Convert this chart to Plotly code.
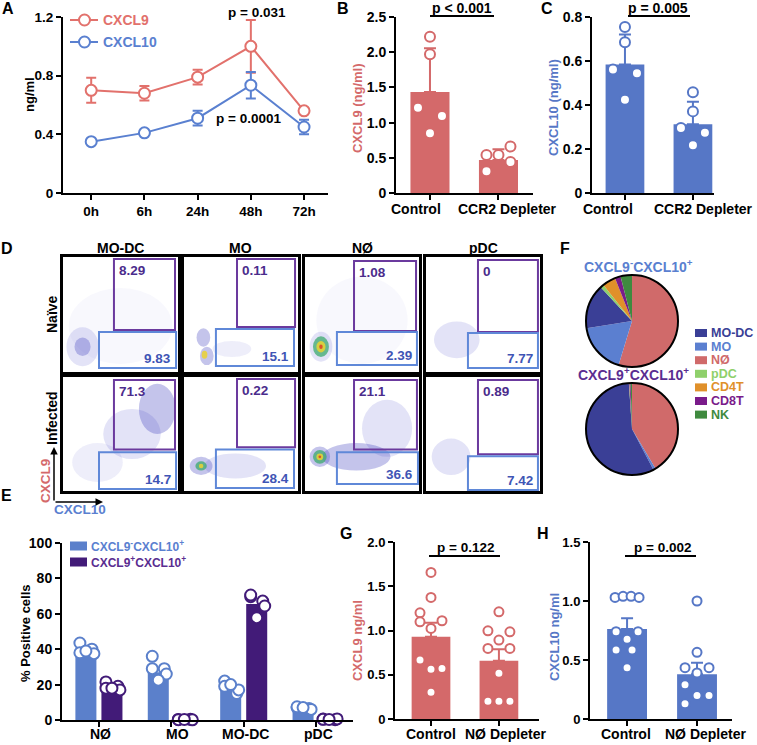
import plotly.graph_objects as go

W, H = 757, 745
def fx(p): return p / W
def fy(p): return 1 - p / H

FONT = "Liberation Sans, Arial, sans-serif"
RED = "#D4696A"
BLUE = "#5677C6"
LRED = "#E2716C"
LBLUE = "#5A80D0"
EBLUE = "#5B80CB"
EPURP = "#421B78"
PTXT = "#5A2D91"

# ---------------- DATA ----------------
# Panel A
time_labels = ["0h", "6h", "24h", "48h", "72h"]
a_cxcl9 = [0.70, 0.68, 0.79, 1.00, 0.56]
a_cxcl9_sem = [0.085, 0.05, 0.05, 0.18, 0.02]
a_cxcl10 = [0.35, 0.41, 0.51, 0.735, 0.45]
a_cxcl10_sem = [0.0, 0.0, 0.05, 0.09, 0.05]

# Panel B / C
bc_groups = ["Control", "CCR2 Depleter"]
b_mean = [1.435, 0.47]
b_sem = [0.62, 0.15]
b_pts_ctrl = [2.22, 1.97, 1.21, 1.095, 0.85]
b_pts_depl = [0.54, 0.54, 0.66, 0.44, 0.31]
c_mean = [0.584, 0.312]
c_sem = [0.136, 0.103]
c_pts_ctrl = [0.755, 0.685, 0.561, 0.544, 0.424]
c_pts_depl = [0.458, 0.371, 0.295, 0.274, 0.217]

# Panel D
d_cells = ["MO-DC", "MO", "NØ", "pDC"]
d_naive_upper = ["8.29", "0.11", "1.08", "0"]
d_naive_lower = ["9.83", "15.1", "2.39", "7.77"]
d_inf_upper = ["71.3", "0.22", "21.1", "0.89"]
d_inf_lower = ["14.7", "28.4", "36.6", "7.42"]

# Panel E
e_cells = ["NØ", "MO", "MO-DC", "pDC"]
e_neg_mean = [38.5, 27.0, 18.0, 6.0]
e_pos_mean = [18.5, 0.3, 65.5, 0.4]
e_neg_pts = [[43.5, 38, 40, 37.5, 39], [36, 29, 29, 26, 22.5],
             [22, 19, 15, 17, 20], [7, 7.5, 6.5, 6, 7]]
e_pos_pts = [[21.5, 18, 19, 17, 18], [0.3, 0.2, 0.4, 0.1, 0.3],
             [69.7, 70.6, 67.2, 64.4, 57.8], [0.5, 0.4, 0.2, 0.6, 0.3]]

# Panel F
f_cells = ["MO-DC", "MO", "NØ", "pDC", "CD4T", "CD8T", "NK"]
f_neg = [15.6, 17.8, 54.7, 1.2, 4.7, 2.0, 4.0]
f_pos = [56.6, 0.8, 41.5, 0.1, 0.1, 0.4, 0.5]

# Panel G / H
gh_groups = ["Control", "NØ Depleter"]
g_mean = [0.93, 0.658]
g_sem = [0.157, 0.13]
g_pts_ctrl = [1.656, 1.374, 1.20, 1.098, 1.11, 1.023, 0.666, 0.561, 0.572, 0.301]
g_pts_depl = [1.211, 0.997, 0.985, 0.892, 0.798, 0.798, 0.516, 0.20, 0.20, 0.20]
h_mean = [0.763, 0.38]
h_sem = [0.09, 0.097]
h_pts_ctrl = [1.03, 1.04, 1.04, 1.03, 0.74, 0.74, 0.675, 0.585, 0.585, 0.435]
h_pts_depl = [1.0, 0.565, 0.435, 0.435, 0.39, 0.29, 0.20, 0.20, 0.13]

# ---------------- STYLE / POSITIONS ----------------
F_COLORS = ["#3A3F96", "#5B7FD0", "#D06A6A", "#8FD06B", "#E0902A", "#7A1B8A", "#3F8A3F"]

fig = go.Figure()
layout = dict(width=W, height=H, margin=dict(l=0, r=0, t=0, b=0, autoexpand=False),
              paper_bgcolor="white", plot_bgcolor="white", showlegend=False,
              font=dict(family=FONT, size=14, color="black", weight=700))
shapes = []
annots = []

def ax_names(n):
    return ("xaxis" if n == 1 else f"xaxis{n}", "yaxis" if n == 1 else f"yaxis{n}",
            "x" if n == 1 else f"x{n}", "y" if n == 1 else f"y{n}")

def add_axes(n, xpx, ypx, xr, yr, xtv=None, xtt=None, ytv=None, ytt=None, box=False,
             tsize=14, xlabels=True):
    xa, ya, xref, yref = ax_names(n)
    base = dict(showgrid=False, zeroline=False, showline=True, linecolor="black",
                linewidth=2, fixedrange=True, automargin=False, tickangle=0,
                tickfont=dict(family=FONT, size=tsize, color="black", weight=700))
    if box:
        xd = dict(base, domain=[fx(xpx[0]), fx(xpx[1])], range=xr, anchor=yref,
                  mirror=True, showticklabels=False, ticks="", linewidth=2.5)
        yd = dict(base, domain=[fy(ypx[1]), fy(ypx[0])], range=yr, anchor=xref,
                  mirror=True, showticklabels=False, ticks="", linewidth=2.5)
    else:
        xd = dict(base, domain=[fx(xpx[0]), fx(xpx[1])], range=xr, anchor=yref,
                  ticks="outside", ticklen=5, tickwidth=2, tickcolor="black",
                  tickmode="array", tickvals=xtv, showticklabels=xlabels)
        if xlabels:
            xd["ticktext"] = xtt
        yd = dict(base, domain=[fy(ypx[1]), fy(ypx[0])], range=yr, anchor=xref,
                  ticks="outside", ticklen=5, tickwidth=2, tickcolor="black",
                  tickmode="array", tickvals=ytv, ticktext=ytt)
    layout[xa] = xd
    layout[ya] = yd
    return xref, yref

def text(x, y, s, size=14, color="black", xanchor="center", yanchor="middle", angle=0):
    annots.append(dict(x=fx(x), y=fy(y), xref="paper", yref="paper", text=s,
                       showarrow=False, xanchor=xanchor, yanchor=yanchor, textangle=angle,
                       font=dict(family=FONT, size=size, color=color, weight=700)))

def hline(x0, x1, y, color="black", width=2):
    shapes.append(dict(type="line", xref="paper", yref="paper", x0=fx(x0), x1=fx(x1),
                       y0=fy(y), y1=fy(y), line=dict(color=color, width=width)))

# ---------- Panel A ----------
xa, ya = add_axes(1, (63, 328), (17, 193), [-0.53, 4.45], [0, 1.2],
                  list(range(5)), time_labels, [0, 0.4, 0.8, 1.2], ["0", "0.4", "0.8", "1.2"],
                  tsize=13.5)
for vals, sem, col in [(a_cxcl9, a_cxcl9_sem, LRED), (a_cxcl10, a_cxcl10_sem, LBLUE)]:
    fig.add_trace(go.Scatter(x=list(range(5)), y=vals, mode="lines+markers", xaxis=xa, yaxis=ya,
                             line=dict(color=col, width=2),
                             marker=dict(size=11, color="white", line=dict(color=col, width=2)),
                             error_y=dict(type="data", array=sem, color=col, thickness=2, width=5),
                             cliponaxis=False, hoverinfo="skip"))
# legend A
for yy, col, lab in [(20, LRED, "CXCL9"), (42, LBLUE, "CXCL10")]:
    hline(70, 98, yy, col, 2)
    shapes.append(dict(type="circle", xref="paper", yref="paper", x0=fx(79), x1=fx(90),
                       y0=fy(yy + 5.5), y1=fy(yy - 5.5), fillcolor="white",
                       line=dict(color=col, width=2)))
    text(101, yy, lab, 14, col, "left")
text(257, 12, "p = 0.031", 13.5)
text(248, 118, "p = 0.0001", 13.5)
text(29, 95, "ng/ml", 13, angle=-90)

# ---------- bar + dot panels ----------
def bar_panel(n, xpx, ypx, xr, yr, ytv, ytt, means, sems, pts_list, offs_list,
              color, spacing, msize=9, tsize=14):
    xr_, yr_ = add_axes(n, xpx, ypx, xr, yr, [0, 1], None, ytv, ytt, tsize=tsize,
                        xlabels=False)
    fig.add_trace(go.Bar(x=[0, 1], y=means, width=0.57, xaxis=xr_, yaxis=yr_,
                         marker=dict(color=color, line=dict(width=0)),
                         error_y=dict(type="data", array=sems, arrayminus=[0, 0], symmetric=False,
                                      color=color, thickness=2, width=6),
                         hoverinfo="skip"))
    for gi, (pts, offs) in enumerate(zip(pts_list, offs_list)):
        fig.add_trace(go.Scatter(x=[gi + o / spacing for o in offs], y=pts, mode="markers",
                                 xaxis=xr_, yaxis=yr_, cliponaxis=False, hoverinfo="skip",
                                 marker=dict(size=msize, color="white",
                                             line=dict(color=color, width=2))))

bar_panel(2, (396, 533), (17, 193), [-0.496, 1.504], [0, 2.5],
          [0, 0.5, 1.0, 1.5, 2.0, 2.5], ["0", "0.5", "1.0", "1.5", "2.0", "2.5"],
          b_mean, b_sem, [b_pts_ctrl, b_pts_depl],
          [[0, 0, -12, 12, 0], [-12, 0, 12, 12, -12]], RED, 68.5, 10)
bar_panel(3, (592, 714), (17, 193), [-0.485, 1.31], [0, 0.8],
          [0, 0.2, 0.4, 0.6, 0.8], ["0", "0.2", "0.4", "0.6", "0.8"],
          c_mean, c_sem, [c_pts_ctrl, c_pts_depl],
          [[0, 0, -12, 12, 0], [0, 0, -12, 12, 0]], BLUE, 68, 10)
text(416, 209, bc_groups[0], 14)
text(507, 209, bc_groups[1], 14)
text(608, 209, bc_groups[0], 14)
text(703, 209, bc_groups[1], 14)
text(462, 8, "p < 0.001", 14)
hline(430, 494, 16)
text(658, 8, "p = 0.005", 14)
hline(628, 690, 16)
text(357, 108, "CXCL9 (ng/ml)", 13, RED, angle=-90)
text(553, 108, "CXCL10 (ng/ml)", 13, BLUE, angle=-90)

bar_panel(13, (395, 539), (542, 719), [-0.53, 1.59], [0, 2.0],
          [0, 0.5, 1.0, 1.5, 2.0], ["0", "0.5", "1.0", "1.5", "2.0"],
          g_mean, g_sem, [g_pts_ctrl, g_pts_depl],
          [[0, 0, -11, -11, 11, 0, -11, 0, 11, 0], [0, -11, 11, 0, -11, 11, 0, -11, 0, 11]],
          RED, 68, 9, 13)
bar_panel(14, (590, 732), (542, 719), [-0.53, 1.5], [0, 1.5],
          [0, 0.5, 1.0, 1.5], ["0", "0.5", "1.0", "1.5"],
          h_mean, h_sem, [h_pts_ctrl, h_pts_depl],
          [[-12, -4, 4, 12, -11, 11, 0, -11, 5, 0], [0, 0, -12, 12, 0, -12, 12, 0, -12]],
          BLUE, 70, 9, 13)
text(431, 734, gh_groups[0], 14)
text(506, 734, gh_groups[1], 14)
text(626, 734, gh_groups[0], 14)
text(705, 734, gh_groups[1], 14)
text(465, 547, "p = 0.122", 13.5)
hline(429, 500, 556)
text(662, 547, "p = 0.002", 13.5)
hline(625, 696, 556)
text(357, 641, "CXCL9 ng/ml", 13, RED, angle=-90)
text(554, 637, "CXCL10 ng/ml", 13, BLUE, angle=-90)

# ---------- Panel E ----------
xe, ye = add_axes(12, (62, 353), (543, 720), [-0.51, 3.51], [0, 100],
                  [0, 1, 2, 3], None, [0, 20, 40, 60, 80, 100],
                  ["0", "20", "40", "60", "80", "100"], xlabels=False)
for lab, xp in zip(e_cells, [100, 177, 245, 318]):
    text(xp, 734, lab, 14)
e_sp = 72.3
e_off = 13 / e_sp
fig.add_trace(go.Bar(x=[i - e_off for i in range(4)], y=e_neg_mean, width=21 / e_sp,
                     xaxis=xe, yaxis=ye, marker=dict(color=EBLUE, line=dict(width=0)), hoverinfo="skip"))
fig.add_trace(go.Bar(x=[i + e_off for i in range(4)], y=e_pos_mean, width=21 / e_sp,
                     xaxis=xe, yaxis=ye, marker=dict(color=EPURP, line=dict(width=0)), hoverinfo="skip"))
pt_offs = [-6, -6, 6, 8, 0]
for pts_all, sign, col in [(e_neg_pts, -1, EBLUE), (e_pos_pts, 1, EPURP)]:
    xs, ys = [], []
    for gi, pts in enumerate(pts_all):
        for k, v in enumerate(pts):
            xs.append(gi + sign * e_off + pt_offs[k] / e_sp)
            ys.append(v)
    fig.add_trace(go.Scatter(x=xs, y=ys, mode="markers", xaxis=xe, yaxis=ye, cliponaxis=False,
                             hoverinfo="skip",
                             marker=dict(size=11, color="white", line=dict(color=col, width=2))))
for yy, col, tcol, lab in [(546, EBLUE, LBLUE, "CXCL9<sup>-</sup>CXCL10<sup>+</sup>"),
                           (562, EPURP, PTXT, "CXCL9<sup>+</sup>CXCL10<sup>+</sup>")]:
    shapes.append(dict(type="rect", xref="paper", yref="paper", x0=fx(70), x1=fx(87),
                       y0=fy(yy + 4.5), y1=fy(yy - 4.5), fillcolor=col, line=dict(width=0)))
    text(89, yy, lab, 12, tcol, "left")
text(25, 633, "% Positive cells", 13, angle=-90)

# ---------- Panel D (flow plots) ----------
col_px = [(63, 178), (184, 298), (305, 419), (426, 540)]
row_px = [(257, 372), (377, 491)]
gates = [
    [((0.443, 0.365, 0.974, 0.983), (0.313, 0.035, 0.983, 0.348)),
     ((0.465, 0.391, 0.974, 0.983), (0.28, 0.052, 0.965, 0.374)),
     ((0.43, 0.357, 0.974, 0.965), (0.28, 0.061, 0.982, 0.348)),
     ((0.456, 0.348, 0.982, 0.974), (0.368, 0.035, 0.982, 0.339))],
    [((0.443, 0.365, 0.974, 0.974), (0.313, 0.017, 0.983, 0.339)),
     ((0.465, 0.383, 0.974, 0.983), (0.28, 0.026, 0.965, 0.365)),
     ((0.43, 0.365, 0.982, 0.974), (0.28, 0.061, 0.991, 0.339)),
     ((0.456, 0.322, 0.982, 0.974), (0.368, 0.009, 0.982, 0.304))],
]
# approximate cell-density clouds: (row, col, cx, cy, rx, ry, rgba)
VS = "rgba(70,70,200,0.04)"
SP = "rgba(70,70,200,0.09)"
MD = "rgba(70,70,200,0.15)"
DN = "rgba(60,60,190,0.30)"
GR = "rgba(60,170,110,0.75)"
YE = "rgba(235,210,50,0.85)"
RD = "rgba(220,60,40,0.85)"
clouds = [
    (0, 0, 0.50, 0.40, 0.45, 0.33, VS),
    (0, 0, 0.17, 0.22, 0.14, 0.17, MD), (0, 0, 0.17, 0.22, 0.07, 0.08, DN),
    (0, 1, 0.42, 0.20, 0.17, 0.07, SP),
    (0, 1, 0.17, 0.30, 0.06, 0.08, DN), (0, 1, 0.20, 0.14, 0.06, 0.08, DN),
    (0, 1, 0.18, 0.15, 0.025, 0.035, YE),
    (0, 2, 0.50, 0.45, 0.40, 0.38, VS),
    (0, 2, 0.14, 0.22, 0.10, 0.13, MD), (0, 2, 0.14, 0.22, 0.07, 0.09, GR),
    (0, 2, 0.14, 0.22, 0.04, 0.05, YE), (0, 2, 0.14, 0.22, 0.015, 0.02, RD),
    (0, 3, 0.27, 0.28, 0.20, 0.16, MD),
    (1, 0, 0.30, 0.25, 0.22, 0.17, SP), (1, 0, 0.60, 0.50, 0.25, 0.22, MD),
    (1, 0, 0.82, 0.72, 0.16, 0.22, DN),
    (1, 1, 0.45, 0.22, 0.27, 0.11, MD), (1, 1, 0.15, 0.22, 0.10, 0.08, DN),
    (1, 1, 0.15, 0.22, 0.05, 0.04, GR), (1, 1, 0.15, 0.22, 0.02, 0.02, YE),
    (1, 2, 0.72, 0.55, 0.22, 0.25, MD), (1, 2, 0.45, 0.30, 0.30, 0.12, DN),
    (1, 2, 0.13, 0.30, 0.09, 0.09, DN), (1, 2, 0.13, 0.30, 0.06, 0.06, GR),
    (1, 2, 0.13, 0.30, 0.03, 0.03, YE), (1, 2, 0.13, 0.30, 0.012, 0.012, RD),
    (1, 3, 0.22, 0.30, 0.17, 0.16, MD),
]
upper = [d_naive_upper, d_inf_upper]
lower = [d_naive_lower, d_inf_lower]
ax_id = {}
n = 4
for r in range(2):
    for c in range(4):
        xr_, yr_ = add_axes(n, col_px[c], row_px[r], [0, 1], [0, 1], box=True)
        ax_id[(r, c)] = (xr_, yr_)
        (p0, p1, p2, p3), (b0, b1, b2, b3) = gates[r][c]
        shapes.append(dict(type="rect", xref=xr_, yref=yr_, x0=p0, y0=p1, x1=p2, y1=p3,
                           line=dict(color="#6B3A9E", width=2), layer="above"))
        shapes.append(dict(type="rect", xref=xr_, yref=yr_, x0=b0, y0=b1, x1=b2, y1=b3,
                           line=dict(color="#5F88D8", width=2), layer="above"))
        annots.append(dict(x=p0 + 0.03, y=p3 - 0.02, xref=xr_, yref=yr_, text=upper[r][c],
                           showarrow=False, xanchor="left", yanchor="top",
                           font=dict(family=FONT, size=13.5, color="#4B2C8C", weight=700)))
        annots.append(dict(x=b2 - 0.03, y=b1 + 0.0, xref=xr_, yref=yr_, text=lower[r][c],
                           showarrow=False, xanchor="right", yanchor="bottom",
                           font=dict(family=FONT, size=13.5, color="#3F55B5", weight=700)))
        n += 1
for (r, c, cx, cy, rx, ry, colr) in clouds:
    xr_, yr_ = ax_id[(r, c)]
    shapes.append(dict(type="circle", xref=xr_, yref=yr_, x0=cx - rx, x1=cx + rx,
                       y0=cy - ry, y1=cy + ry, fillcolor=colr, line=dict(width=0), layer="below"))
for c in range(4):
    text((col_px[c][0] + col_px[c][1]) / 2, 248, d_cells[c], 14)
text(52, 314, "Naïve", 14, angle=-90)
text(52, 418, "Infected", 14, angle=-90)
text(45, 481, "CXCL9", 13.5, RED, angle=-90)
text(80, 509, "CXCL10", 13.5, LBLUE)
annots.append(dict(x=fx(54), y=fy(447), xref="paper", yref="paper", text="", showarrow=True,
                   ax=0, ay=55, arrowhead=2, arrowsize=1, arrowwidth=1.5, arrowcolor="black"))
annots.append(dict(x=fx(103), y=fy(502), xref="paper", yref="paper", text="", showarrow=True,
                   ax=-49, ay=0, arrowhead=2, arrowsize=1, arrowwidth=1.5, arrowcolor="black"))

# ---------- Panel F (pies) ----------
pie_order = [2, 1, 0, 3, 4, 5, 6]
for vals, (y0, y1) in [(f_neg, (275, 367)), (f_pos, (383, 475))]:
    fig.add_trace(go.Pie(values=[vals[i] for i in pie_order], labels=[f_cells[i] for i in pie_order],
                         marker=dict(colors=[F_COLORS[i] for i in pie_order], line=dict(width=0)),
                         sort=False, direction="clockwise", rotation=0, textinfo="none",
                         hoverinfo="skip", domain=dict(x=[fx(586), fx(678)], y=[fy(y1), fy(y0)])))
    shapes.append(dict(type="circle", xref="paper", yref="paper", x0=fx(586), x1=fx(678),
                       y0=fy(y1), y1=fy(y0), line=dict(color="black", width=2)))
text(638, 266, "CXCL9<sup>-</sup>CXCL10<sup>+</sup>", 14, LBLUE)
text(633, 374, "CXCL9<sup>+</sup>CXCL10<sup>+</sup>", 14, PTXT)
for k, (lab, colr) in enumerate(zip(f_cells, F_COLORS)):
    yy = 333 + k * 13.6
    shapes.append(dict(type="rect", xref="paper", yref="paper", x0=fx(695), x1=fx(707),
                       y0=fy(yy + 4), y1=fy(yy - 4), fillcolor=colr, line=dict(width=0)))
    text(709, yy, lab, 12.5, colr, "left")

# panel letters
for lab, x, y in [("A", 8, 8), ("B", 343, 8), ("C", 547, 8), ("D", 7, 248), ("E", 6, 495),
                  ("F", 565, 248), ("G", 346, 533), ("H", 543, 533)]:
    text(x, y, lab, 16)

layout["shapes"] = shapes
layout["annotations"] = annots
fig.update_layout(**layout)
fig.write_html("out.html", config={"displayModeBar": False},
               post_script="document.body.style.margin='0';")
